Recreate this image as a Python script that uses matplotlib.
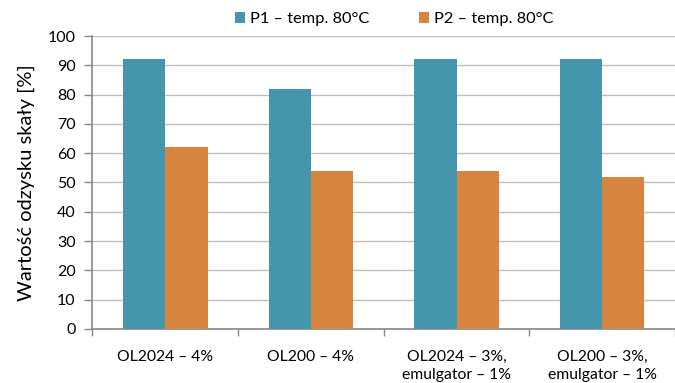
import matplotlib.pyplot as plt
import numpy as np

plt.rcParams['font.family'] = ['Lato', 'DejaVu Sans']

categories = ['OL2024 – 4%', 'OL200 – 4%', 'OL2024 – 3%,\nemulgator – 1%', 'OL200 – 3%,\nemulgator – 1%']
p1_values = [92, 82, 92, 92]
p2_values = [62, 54, 54, 52]
series_labels = ['P1 – temp. 80°C', 'P2 – temp. 80°C']
y_ticks = list(range(0, 101, 10))

teal = '#4396AB'
orange = '#D88441'
axis_gray = '#878787'
grid_gray = '#BEBEBE'

fig = plt.figure(figsize=(6.75, 3.83), dpi=100)
ax = fig.add_axes([0.137, 0.141, 0.863, 0.765])

x = np.arange(len(categories))
w = 0.29
ax.bar(x - w / 2, p1_values, width=w, color=teal, label=series_labels[0], zorder=3)
ax.bar(x + w / 2, p2_values, width=w, color=orange, label=series_labels[1], zorder=3)

ax.set_xlim(-0.5, len(categories) - 0.5)
ax.set_ylim(0, 100)
ax.set_yticks(y_ticks)
ax.yaxis.grid(True, color=grid_gray, linewidth=1, zorder=0)

# category boundaries carry the ticks, labels sit in the middle
ax.set_xticks(np.arange(len(categories) + 1) - 0.5)
ax.set_xticklabels([])
ax.set_xticks(x, minor=True)
ax.set_xticklabels(categories, minor=True, fontsize=11.3, linespacing=1.4)
ax.tick_params(axis='x', which='minor', length=0, pad=15)
ax.tick_params(axis='x', which='major', length=5, color=axis_gray, width=1)
ax.tick_params(axis='y', length=6, color=axis_gray, width=1, labelsize=11.5, pad=6)

for side in ['top', 'right']:
    ax.spines[side].set_visible(False)
for side in ['left', 'bottom']:
    ax.spines[side].set_color(axis_gray)
    ax.spines[side].set_linewidth(1.2)

ax.set_ylabel('Wartość odzysku skały [%]', fontsize=14.5, labelpad=9)

fig.legend(loc='center', bbox_to_anchor=(394 / 675, 1 - 19 / 383), ncol=2, frameon=False,
           fontsize=11.8, handlelength=0.65, handleheight=0.65, handletextpad=0.3,
           columnspacing=3.0, borderaxespad=0)

fig.savefig('out.png', dpi=100)
